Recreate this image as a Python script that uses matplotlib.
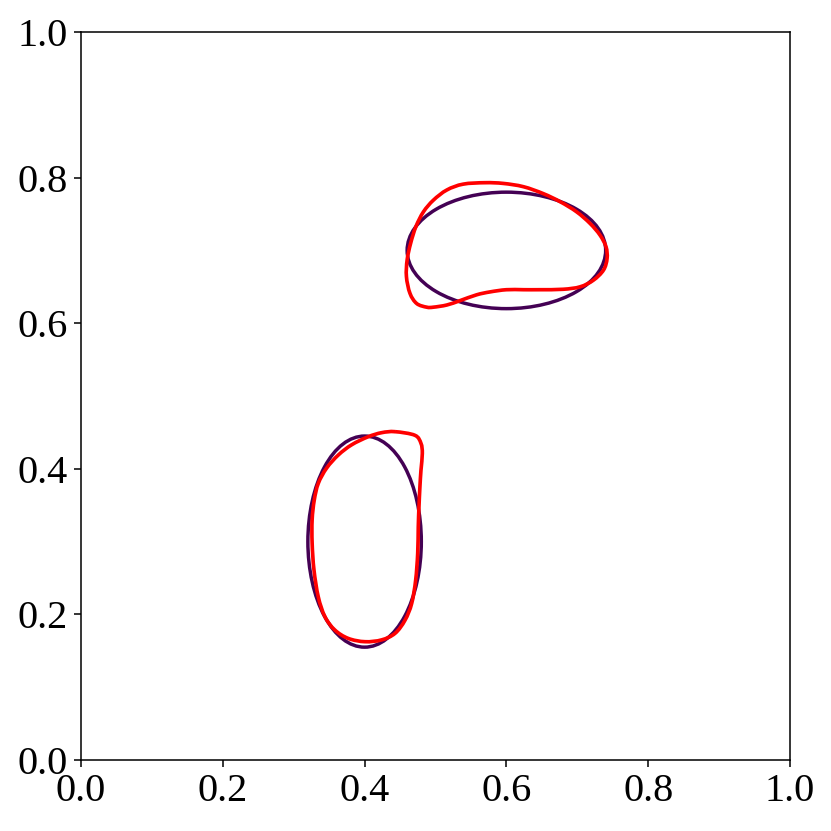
import numpy as np
import matplotlib
matplotlib.use("Agg")
import matplotlib.pyplot as plt
from matplotlib.patches import Ellipse, PathPatch
from matplotlib.path import Path

plt.rcParams['font.family'] = ['Liberation Serif', 'DejaVu Serif']
plt.rcParams['font.size'] = 21

# Reference ellipses: centers, widths, heights
ellipse_cx = [0.6, 0.4]
ellipse_cy = [0.7, 0.3]
ellipse_w = [0.28, 0.16]
ellipse_h = [0.16, 0.29]

# Red curve 1 (upper), closed
red1_x = [0.570, 0.539, 0.516, 0.497, 0.483, 0.4725, 0.465, 0.460, 0.459, 0.464,
          0.4735, 0.4876, 0.497, 0.516, 0.5346, 0.558, 0.577, 0.600, 0.624, 0.647,
          0.680, 0.704, 0.7226, 0.737, 0.742, 0.7405, 0.732, 0.718, 0.699, 0.6756,
          0.652, 0.624, 0.5956]
red1_y = [0.793, 0.791, 0.783, 0.769, 0.753, 0.733, 0.710, 0.687, 0.664, 0.641,
          0.627, 0.622, 0.622, 0.625, 0.631, 0.639, 0.643, 0.646, 0.646, 0.646,
          0.6466, 0.650, 0.659, 0.673, 0.689, 0.705, 0.721, 0.737, 0.753, 0.767,
          0.778, 0.7875, 0.792]

# Red curve 2 (lower), closed
red2_x = [0.443, 0.471, 0.4795, 0.4814, 0.4795, 0.478, 0.4767, 0.4757, 0.4749, 0.472,
          0.4664, 0.457, 0.443, 0.424, 0.4006, 0.377, 0.358, 0.344, 0.3347, 0.3286,
          0.326, 0.326, 0.329, 0.3347, 0.3465, 0.363, 0.3818, 0.405, 0.424]
red2_y = [0.451, 0.446, 0.435, 0.421, 0.398, 0.375, 0.348, 0.320, 0.284, 0.247,
          0.215, 0.192, 0.174, 0.165, 0.1625, 0.167, 0.1786, 0.197, 0.224, 0.261,
          0.298, 0.330, 0.357, 0.380, 0.401, 0.419, 0.433, 0.444, 0.4496]

purple = '#440154'


def smooth_closed_path(xs, ys):
    """Closed curve through the given points, drawn with Bezier segments."""
    p = np.column_stack([xs, ys])
    n = len(p)
    verts = [p[0]]
    codes = [Path.MOVETO]
    for i in range(n):
        p0, p1, p2, p3 = p[i - 1], p[i], p[(i + 1) % n], p[(i + 2) % n]
        c1 = p1 + (p2 - p0) / 6.0
        c2 = p2 - (p3 - p1) / 6.0
        verts += [c1, c2, p2]
        codes += [Path.CURVE4] * 3
    return Path(verts, codes)


fig = plt.figure(figsize=(6, 6), dpi=138.5)
ax = fig.add_axes([81/831, 71/831, 709/831, 728/831])
for cx, cy, w, h in zip(ellipse_cx, ellipse_cy, ellipse_w, ellipse_h):
    ax.add_patch(Ellipse((cx, cy), w, h, fill=False, edgecolor=purple, linewidth=1.8))
for xs, ys in [(red1_x, red1_y), (red2_x, red2_y)]:
    ax.add_patch(PathPatch(smooth_closed_path(xs, ys), fill=False,
                           edgecolor='red', linewidth=1.9, joinstyle='round'))
ax.set_xlim(0, 1)
ax.set_ylim(0, 1)
ax.set_xticks([0, 0.2, 0.4, 0.6, 0.8, 1.0])
ax.set_yticks([0, 0.2, 0.4, 0.6, 0.8, 1.0])
fig.savefig('out.png', dpi=138.5)
